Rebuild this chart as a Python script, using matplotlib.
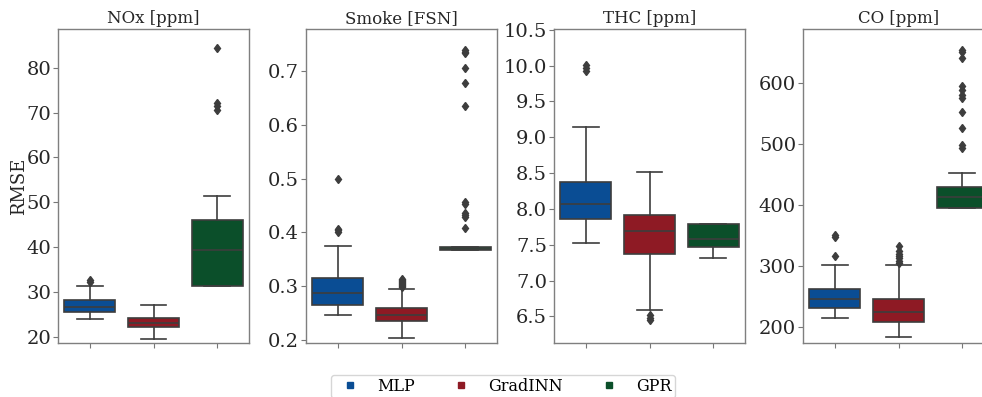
import matplotlib
matplotlib.use("Agg")
import matplotlib.pyplot as plt
from matplotlib.lines import Line2D

plt.rcParams['font.family'] = ['DejaVu Serif']

# -----------------------------
# data (box summary)
# -----------------------------
models = ["MLP", "GradINN", "GPR"]
colors = ["#0a4d94", "#8e1a24", "#0b4f2a"]
titles = ["NOx [ppm]", "Smoke [FSN]", "THC [ppm]", "CO [ppm]"]

# NOx
nox_q1 = [25.6, 22.2, 31.4]
nox_med = [26.8, 23.2, 39.3]
nox_q3 = [28.2, 24.3, 46.0]
nox_lo = [24.1, 19.5, 31.4]
nox_hi = [31.4, 27.1, 51.4]
nox_fliers = [[32.3, 32.7], [], [70.6, 71.5, 72.1, 84.3]]

# Smoke
smoke_q1 = [0.266, 0.235, 0.367]
smoke_med = [0.287, 0.246, 0.370]
smoke_q3 = [0.315, 0.259, 0.373]
smoke_lo = [0.247, 0.204, 0.367]
smoke_hi = [0.375, 0.295, 0.373]
smoke_fliers = [[0.401, 0.404, 0.406, 0.500],
                [0.298, 0.300, 0.302, 0.304, 0.306, 0.308, 0.310, 0.312, 0.314],
                [0.409, 0.428, 0.432, 0.436, 0.452, 0.457, 0.634, 0.677,
                 0.705, 0.733, 0.736, 0.739]]

# THC
thc_q1 = [7.86, 7.37, 7.47]
thc_med = [8.07, 7.69, 7.58]
thc_q3 = [8.38, 7.91, 7.79]
thc_lo = [7.53, 6.595, 7.32]
thc_hi = [9.14, 8.52, 7.79]
thc_fliers = [[9.93, 9.97, 10.01], [6.45, 6.48, 6.52], []]

# CO
co_q1 = [230, 208, 395]
co_med = [245.5, 224.7, 413]
co_q3 = [262, 245.5, 429]
co_lo = [214, 182.5, 395]
co_hi = [301.5, 300.4, 452]
co_fliers = [[316, 347, 350],
             [305, 308, 312, 316, 320, 325, 332],
             [494, 498, 526, 553, 576, 581, 588, 596, 641, 652, 655]]

ylims = [(18.7, 88.6), (0.1945, 0.778), (6.13, 10.51), (173, 689)]
yticks = [[20, 30, 40, 50, 60, 70, 80],
          [0.2, 0.3, 0.4, 0.5, 0.6, 0.7],
          [6.5, 7.0, 7.5, 8.0, 8.5, 9.0, 9.5, 10.0, 10.5],
          [200, 300, 400, 500, 600]]

panels = [
    (nox_q1, nox_med, nox_q3, nox_lo, nox_hi, nox_fliers),
    (smoke_q1, smoke_med, smoke_q3, smoke_lo, smoke_hi, smoke_fliers),
    (thc_q1, thc_med, thc_q3, thc_lo, thc_hi, thc_fliers),
    (co_q1, co_med, co_q3, co_lo, co_hi, co_fliers),
]

# -----------------------------
# plot
# -----------------------------
W, H = 982, 397
fig = plt.figure(figsize=(W / 100, H / 100), dpi=100)

lefts = [58, 306, 554, 803]
ax_w = 191
ax_bottom = (H - 343) / H
ax_h = (343 - 29) / H

edge = "#3d3d3d"
for i, (q1, med, q3, lo, hi, fl) in enumerate(panels):
    ax = fig.add_axes([lefts[i] / W, ax_bottom, ax_w / W, ax_h])
    stats = []
    for j in range(3):
        stats.append(dict(q1=q1[j], med=med[j], q3=q3[j], whislo=lo[j],
                          whishi=hi[j], fliers=fl[j]))
    bp = ax.bxp(stats, positions=range(3), widths=0.8, patch_artist=True,
                showfliers=True,
                boxprops=dict(edgecolor=edge, linewidth=1.2),
                medianprops=dict(color=edge, linewidth=1.2),
                whiskerprops=dict(color=edge, linewidth=1.2),
                capprops=dict(color=edge, linewidth=1.2),
                flierprops=dict(marker="d", markerfacecolor=edge,
                                markeredgecolor=edge, markersize=4.5))
    for patch, c in zip(bp["boxes"], colors):
        patch.set_facecolor(c)
    for cap in bp["caps"]:
        x = cap.get_xdata()
        mid = (x[0] + x[1]) / 2
        cap.set_xdata([mid - 0.2, mid + 0.2])

    ax.set_xlim(-0.5, 2.5)
    ax.set_ylim(*ylims[i])
    ax.set_yticks(yticks[i])
    if i in (1, 2):
        ax.set_yticklabels(["%.1f" % v for v in yticks[i]])
    ax.set_xticks(range(3))
    ax.set_xticklabels([])
    ax.set_title(titles[i], fontsize=12, pad=4, color="#262626")
    ax.tick_params(labelsize=14, colors="#262626", length=3.5, width=0.8,
                   pad=1.5)
    ax.tick_params(axis="both", color="#777777")
    for s in ax.spines.values():
        s.set_color("#7f7f7f")
        s.set_linewidth(1.0)
    if i == 0:
        ax.set_ylabel("RMSE", fontsize=13, color="#262626", labelpad=-1)

handles = [Line2D([], [], marker="s", linestyle="none", color=c,
                  markersize=5) for c in colors]
fig.legend(handles, models, loc="upper center", bbox_to_anchor=(0.512, 0.056),
           borderaxespad=0, ncol=3, fontsize=11.5, frameon=True,
           handlelength=2.0, handletextpad=0.7, columnspacing=1.9,
           borderpad=0.2, edgecolor="#cccccc")

fig.savefig("out.png", dpi=100)
